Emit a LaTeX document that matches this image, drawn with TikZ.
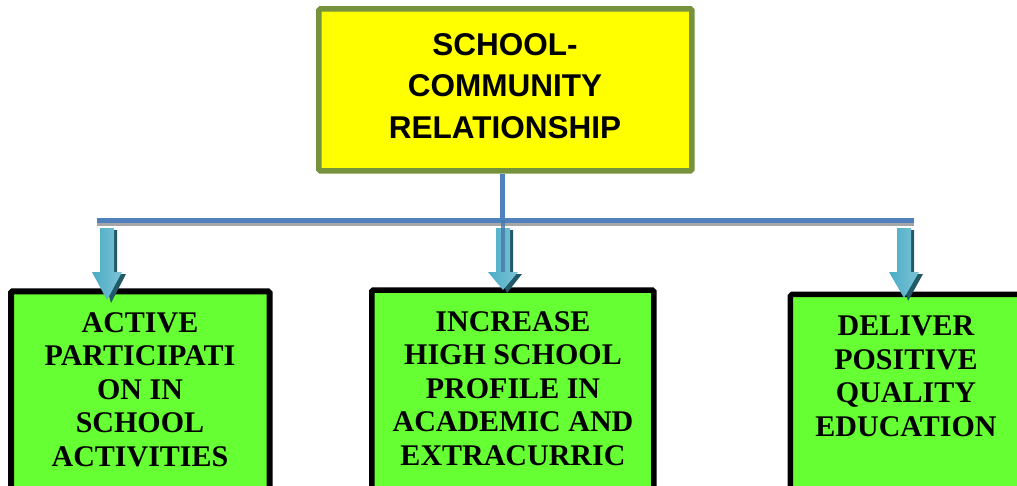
\documentclass[tikz,border=0pt]{standalone}
\usepackage{fontspec}
\setmainfont{Liberation Serif}
\newfontfamily\headfont{Liberation Sans}
\usetikzlibrary{calc}
\definecolor{olivebd}{HTML}{76923C}
\definecolor{barblue}{HTML}{4F81BD}
\definecolor{arrowfill}{HTML}{4BACC6}
\definecolor{arrowlite}{HTML}{92CDDC}
\definecolor{arrowdark}{HTML}{215968}
\definecolor{boxgreen}{HTML}{66FF33}
\definecolor{headyellow}{HTML}{FFFF00}
\tikzset{
  headbox/.style={draw=olivebd, line width=5.5pt, fill=headyellow, rounded corners=1.5pt,
    minimum width=373pt, minimum height=162pt, inner sep=0pt},
  greenbox/.style={draw=black, line width=6pt, fill=boxgreen, rounded corners=1.5pt,
    inner sep=0pt, anchor=north west},
  greentext/.style={font=\fontsize{30}{33.5}\selectfont\bfseries, align=center, anchor=north, inner sep=0pt},
  headtext/.style={font=\headfont\fontsize{31.5}{41.5}\selectfont\bfseries, align=center, anchor=north, inner sep=0pt},
  bar/.style={barblue, line width=5pt},
}
\newcommand{\blockarrow}[2]{%
  \begin{scope}[shift={(#1)}]
    \fill[arrowdark] (-2,6) -- (10,6) -- (10,50) -- (19,50) -- (4,#2+3) -- (-4,50) -- cycle;
    \shade[left color=arrowfill, right color=arrowlite!70!arrowfill, shading angle=90]
      (-7,4) -- (7,4) -- (7,48) -- (15,48) -- (0,#2) -- (-15,48) -- (-7,48) -- cycle;
  \end{scope}}
\begin{document}
\begin{tikzpicture}[x=1pt,y=-1pt]
\useasboundingbox (0,0) rectangle (1017,485);
\clip (0,0) rectangle (1017,485);
% top box
\node[headbox] (top) at (505.4,89.9) {};
\node[headtext] (toptext) at (505,33) {SCHOOL-\\COMMUNITY\\RELATIONSHIP};
% bar
\coordinate (bl) at (97,220);
\coordinate (br) at (914,220);
\coordinate (bm) at (502.5,220);
\draw[gray!70, line width=4pt] ($(bl)+(0,4)$) -- ($(br)+(0,4)$);
\draw[bar] (bl) -- (br);
\draw[bar] (top.south -| bm) -- (bm);
% boxes
\node[greenbox, minimum width=258.5pt, minimum height=230pt] (b1) at (8,288.3) {};
\node[greenbox, minimum width=282pt, minimum height=230pt, line width=5.5pt] (b2) at (369,287.3) {};
\node[greenbox, minimum width=260pt, minimum height=230pt, line width=5.5pt] (b3) at (787.7,291.7) {};
\node[greentext] (t1) at (140,312) {ACTIVE\\PARTICIPATI\\ON IN\\SCHOOL\\ACTIVITIES};
\node[greentext] (t2) at (513,311) {INCREASE\\HIGH SCHOOL\\PROFILE IN\\ACADEMIC AND\\EXTRACURRIC};
\node[greentext] (t3) at (906,316) {DELIVER\\POSITIVE\\QUALITY\\EDUCATION};
% arrows
\coordinate (a1) at (107,224);
\coordinate (a2) at (503,224);
\coordinate (a3) at (904,224);
\blockarrow{a1}{76}
\blockarrow{a2}{66}
\blockarrow{a3}{74}
\draw[barblue!80!arrowdark, line width=4pt, opacity=0.8] (bm) -- ($(bm)+(0,52)$);
\end{tikzpicture}
\end{document}
